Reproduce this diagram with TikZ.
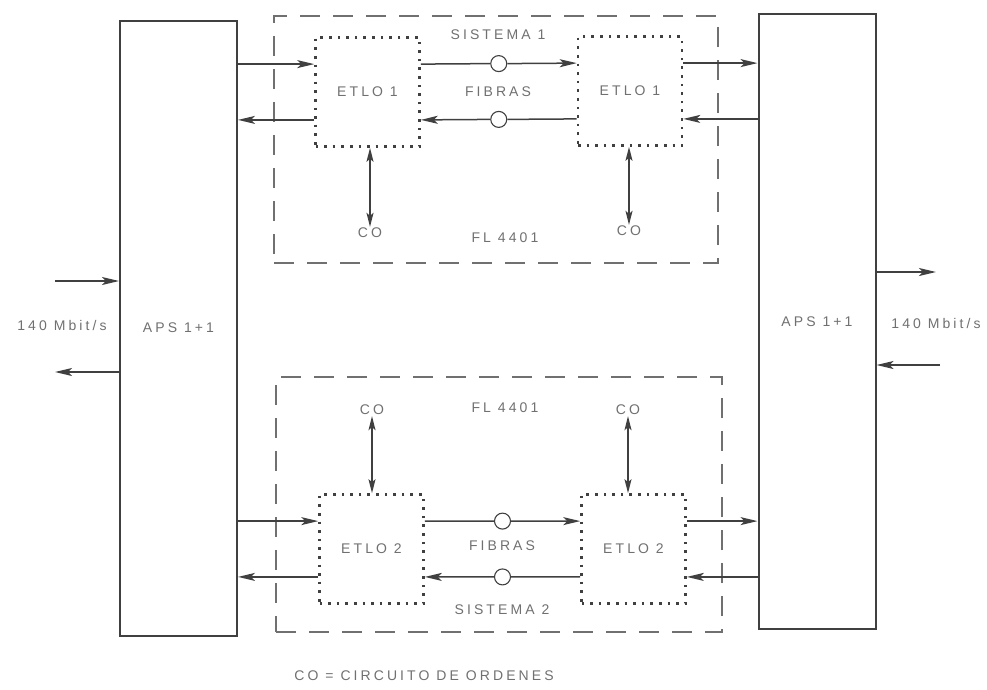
\documentclass[tikz,border=0pt]{standalone}
\usepackage{fontspec}
\setmainfont{Liberation Sans}[LetterSpace=22]
\usetikzlibrary{arrows.meta,calc}
\definecolor{ink}{HTML}{404040}
\definecolor{txt}{HTML}{707070}
\begin{document}
\begin{tikzpicture}[x=1pt,y=-1pt,
  every node/.style={font=\fontsize{14}{16}\selectfont, text=txt, inner sep=1pt},
  apsbox/.style={draw=ink, line width=2pt, minimum width=117pt, minimum height=615pt},
  flbox/.style={draw=ink!75, line width=1.5pt, dash pattern=on 20pt off 13pt},
  etlo/.style={draw=ink, line width=2.6pt, dash pattern=on 2.6pt off 6pt, minimum width=104pt, minimum height=109pt},
  fib/.style={draw=ink, line width=1.1pt, circle, minimum size=16pt, inner sep=0pt},
  wire/.style={draw=ink, line width=1.5pt},
  tip/.tip={Stealth[length=17pt,width=8pt,inset=4pt]},
  arr/.style={wire, -tip},
  darr/.style={wire, {Stealth[length=14pt,width=7pt,inset=3pt]}-{Stealth[length=14pt,width=7pt,inset=3pt]}},
]
\useasboundingbox (0,0) rectangle (987,689);

% APS boxes
\node[apsbox] (apsL) at (178.5,328) {APS 1+1};
\node[apsbox] (apsR) at (817,321.5) {APS 1+1};

% FL 4401 dashed boxes
\node[flbox, minimum width=444pt, minimum height=247pt] (fl1) at (496,139.5) {};
\node[flbox, minimum width=446pt, minimum height=255pt] (fl2) at (499,504.5) {};

% ETLO boxes
\node[etlo] (e1L) at (367.5,92) {ETLO 1};
\node[etlo] (e1R) at (630,91) {ETLO 1};
\node[etlo] (e2L) at (371.5,549) {ETLO 2};
\node[etlo] (e2R) at (633.5,549) {ETLO 2};

% attachment points
\foreach \n in {e1L,e1R,e2L,e2R}{
  \coordinate (\n w1) at ($(\n.north west)!0.25!(\n.south west)$);
  \coordinate (\n w2) at ($(\n.north west)!0.75!(\n.south west)$);
  \coordinate (\n e1) at ($(\n.north east)!0.25!(\n.south east)$);
  \coordinate (\n e2) at ($(\n.north east)!0.75!(\n.south east)$);
}

% fibre circles
\node[fib] (c1a) at ($(e1Le1)!0.5!(e1Rw1)$) {};
\node[fib] (c1b) at ($(e1Le2)!0.5!(e1Rw2)$) {};
\node[fib] (c2a) at ($(e2Le1)!0.5!(e2Rw1)$) {};
\node[fib] (c2b) at ($(e2Le2)!0.5!(e2Rw2)$) {};

% system 1
\draw[arr] (apsL.east |- e1Lw1) -- (e1Lw1);
\draw[arr] (e1Lw2) -- (apsL.east |- e1Lw2);
\draw[wire] (e1Le1) -- (c1a.west);
\draw[arr] (c1a.east) -- (e1Rw1);
\draw[wire] (e1Rw2) -- (c1b.east);
\draw[arr] (c1b.west) -- (e1Le2);
\draw[arr] (e1Re1) -- (apsR.west |- e1Re1);
\draw[arr] (apsR.west |- e1Re2) -- (e1Re2);

% system 2
\draw[arr] (apsL.east |- e2Lw1) -- (e2Lw1);
\draw[arr] (e2Lw2) -- (apsL.east |- e2Lw2);
\draw[wire] (e2Le1) -- (c2a.west);
\draw[arr] (c2a.east) -- (e2Rw1);
\draw[wire] (e2Rw2) -- (c2b.east);
\draw[arr] (c2b.west) -- (e2Le2);
\draw[arr] (e2Re1) -- (apsR.west |- e2Re1);
\draw[arr] (apsR.west |- e2Re2) -- (e2Re2);

% labels
\node (s1) at (498,35) {SISTEMA 1};
\node (f1) at (498,92) {FIBRAS};
\node (fl1t) at (505,238) {FL 4401};
\node (f2) at (502,546) {FIBRAS};
\node (s2) at (502,610) {SISTEMA 2};
\node (fl2t) at (505,408) {FL 4401};

% CO
\node (co1L) at (370,233) {CO};
\node (co1R) at (629,231) {CO};
\node (co2L) at (372,410) {CO};
\node (co2R) at (628,410) {CO};
\draw[darr] (co1L.north) -- (co1L.north |- e1L.south);
\draw[darr] (co1R.north) -- (co1R.north |- e1R.south);
\draw[darr] (co2L.south) -- (co2L.south |- e2L.north);
\draw[darr] (co2R.south) -- (co2R.south |- e2R.north);

% 140 Mbit/s
\node (mL) at (62,325) {140 Mbit/s};
\node (mR) at (936,323) {140 Mbit/s};
\coordinate (inL) at (55,281);
\coordinate (outL) at (55,372);
\coordinate (outR) at (936,272);
\coordinate (inR) at (940,365);
\draw[arr] (inL) -- (apsL.west |- inL);
\draw[arr] (apsL.west |- outL) -- (outL);
\draw[arr] (apsR.east |- outR) -- (outR);
\draw[arr] (inR) -- (apsR.east |- inR);

% legend
\node (leg) at (424,676) {CO = CIRCUITO DE ORDENES};
\end{tikzpicture}
\end{document}
